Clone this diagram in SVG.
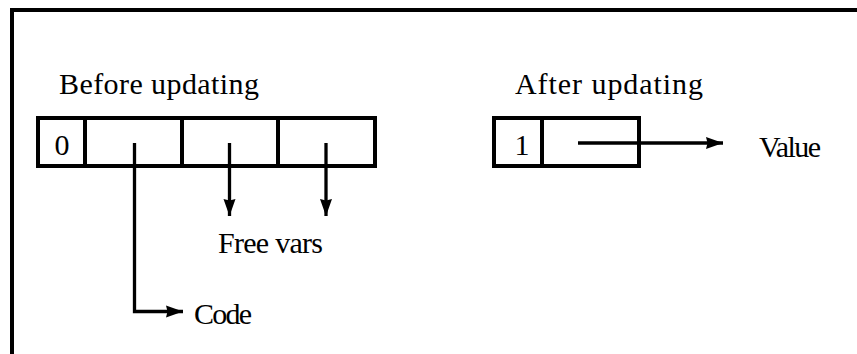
<svg xmlns="http://www.w3.org/2000/svg" width="857" height="354" viewBox="0 0 857 354">
<defs>
<style>
.frame{fill:none;stroke:#000;stroke-width:4}
.box{fill:#fff;stroke:#000;stroke-width:4}
.div{stroke:#000;stroke-width:4}
.conn{fill:none;stroke:#000;stroke-width:3.3}
.t{font-family:"Liberation Serif","Times New Roman",serif;font-size:30px;fill:#000}
</style>
<marker id="ah" markerUnits="userSpaceOnUse" markerWidth="18" markerHeight="13" viewBox="0 0 17 13" refX="17" refY="6.5" orient="auto">
<path d="M0,0.5 L17,6.5 L0,12.5 L1.5,6.5 Z" fill="#000"/>
</marker>
</defs>
<rect width="857" height="354" fill="#fff"/>
<g id="frame">
<path class="frame" d="M12,354 V10 H857"/>
</g>
<g id="before">
<text class="t" x="59" y="94" textLength="200" lengthAdjust="spacing">Before updating</text>
<rect class="box" x="38" y="118" width="337" height="48"/>
<line class="div" x1="85" y1="118" x2="85" y2="166"/>
<line class="div" x1="182" y1="118" x2="182" y2="166"/>
<line class="div" x1="278" y1="118" x2="278" y2="166"/>
<text class="t" x="62" y="155" text-anchor="middle">0</text>
</g>
<g id="after">
<text class="t" x="515" y="94" textLength="188" lengthAdjust="spacing">After updating</text>
<rect class="box" x="494" y="118" width="145" height="48"/>
<line class="div" x1="542" y1="118" x2="542" y2="166"/>
<text class="t" x="522" y="155" text-anchor="middle">1</text>
</g>
<g id="free-vars">
<text class="t" x="218" y="253" textLength="105" lengthAdjust="spacing">Free vars</text>
</g>
<g id="code">
<text class="t" x="194" y="324" textLength="58" lengthAdjust="spacing">Code</text>
</g>
<g id="value">
<text class="t" x="759" y="157" textLength="62" lengthAdjust="spacing">Value</text>
</g>
<g id="connectors">
<path class="conn" d="M134.5,143 V311.5 H183" marker-end="url(#ah)"/>
<path class="conn" d="M229.5,143 V216" marker-end="url(#ah)"/>
<path class="conn" d="M326,143 V216" marker-end="url(#ah)"/>
<path class="conn" d="M578,143 H723" marker-end="url(#ah)"/>
</g>
</svg>
